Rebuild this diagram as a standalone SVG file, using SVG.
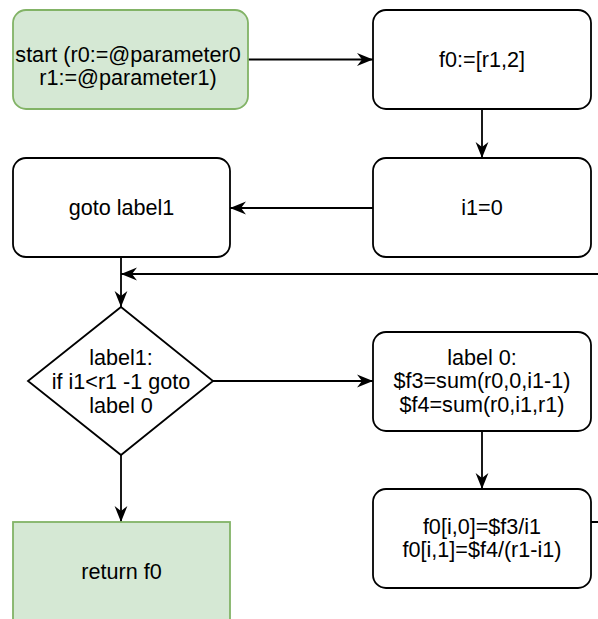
<svg xmlns="http://www.w3.org/2000/svg" width="598" height="619" viewBox="0 0 598 619">
<defs>
<style>
.box{fill:#ffffff;stroke:#000000;stroke-width:1.8}
.green{fill:#d5e8d4;stroke:#82b366;stroke-width:1.8}
.edge{fill:none;stroke:#000000;stroke-width:1.8}
text{font-family:"Liberation Sans",Arial,Helvetica,sans-serif;font-size:21.6px;fill:#000000;text-anchor:middle}
</style>
<marker id="arr" markerUnits="userSpaceOnUse" markerWidth="17" markerHeight="16" viewBox="0 0 17 16" refX="16" refY="8" orient="auto">
<path d="M0,1.6 L16,8 L0,14.4 L5,8 Z" fill="#000000"/>
</marker>
</defs>
<rect width="598" height="619" fill="#ffffff"/>
<g id="edges">
<path class="edge" d="M248,59.5 L373,59.5" marker-end="url(#arr)"/>
<path class="edge" d="M482,109 L482,158" marker-end="url(#arr)"/>
<path class="edge" d="M373,208 L230,208" marker-end="url(#arr)"/>
<path class="edge" d="M121,257 L121,307" marker-end="url(#arr)"/>
<path class="edge" d="M591,522 L610,522 L610,274 L121,274" marker-end="url(#arr)"/>
<path class="edge" d="M213,381 L373,381" marker-end="url(#arr)"/>
<path class="edge" d="M482,431 L482,489" marker-end="url(#arr)"/>
<path class="edge" d="M121,455 L121,522" marker-end="url(#arr)"/>
</g>
<g id="start">
<rect class="green" x="13" y="10" width="235" height="99" rx="13" ry="13"/>
<text x="128" y="61.5">start (r0:=@parameter0</text>
<text x="128" y="84.5">r1:=@parameter1)</text>
</g>
<g id="f0init">
<rect class="box" x="373" y="10" width="218" height="99" rx="13" ry="13"/>
<text x="482" y="67">f0:=[r1,2]</text>
</g>
<g id="i1init">
<rect class="box" x="373" y="158" width="218" height="99" rx="13" ry="13"/>
<text x="482" y="215">i1=0</text>
</g>
<g id="goto">
<rect class="box" x="13" y="158" width="217" height="99" rx="13" ry="13"/>
<text x="121.5" y="215">goto label1</text>
</g>
<g id="label1">
<polygon class="box" points="121,307 213,381 121,455 28,381"/>
<text x="121" y="365">label1:</text>
<text x="121" y="389">if i1&lt;r1 -1 goto</text>
<text x="121" y="413">label 0</text>
</g>
<g id="label0">
<rect class="box" x="373" y="332" width="218" height="99" rx="13" ry="13"/>
<text x="482" y="364.5">label 0:</text>
<text x="482" y="388">$f3=sum(r0,0,i1-1)</text>
<text x="482" y="411.5">$f4=sum(r0,i1,r1)</text>
</g>
<g id="assign">
<rect class="box" x="373" y="489" width="218" height="99" rx="13" ry="13"/>
<text x="482" y="533.5">f0[i,0]=$f3/i1</text>
<text x="482" y="557">f0[i,1]=$f4/(r1-i1)</text>
</g>
<g id="return">
<rect class="green" x="13" y="522" width="217" height="99"/>
<text x="121.5" y="578.5">return f0</text>
</g>
</svg>
